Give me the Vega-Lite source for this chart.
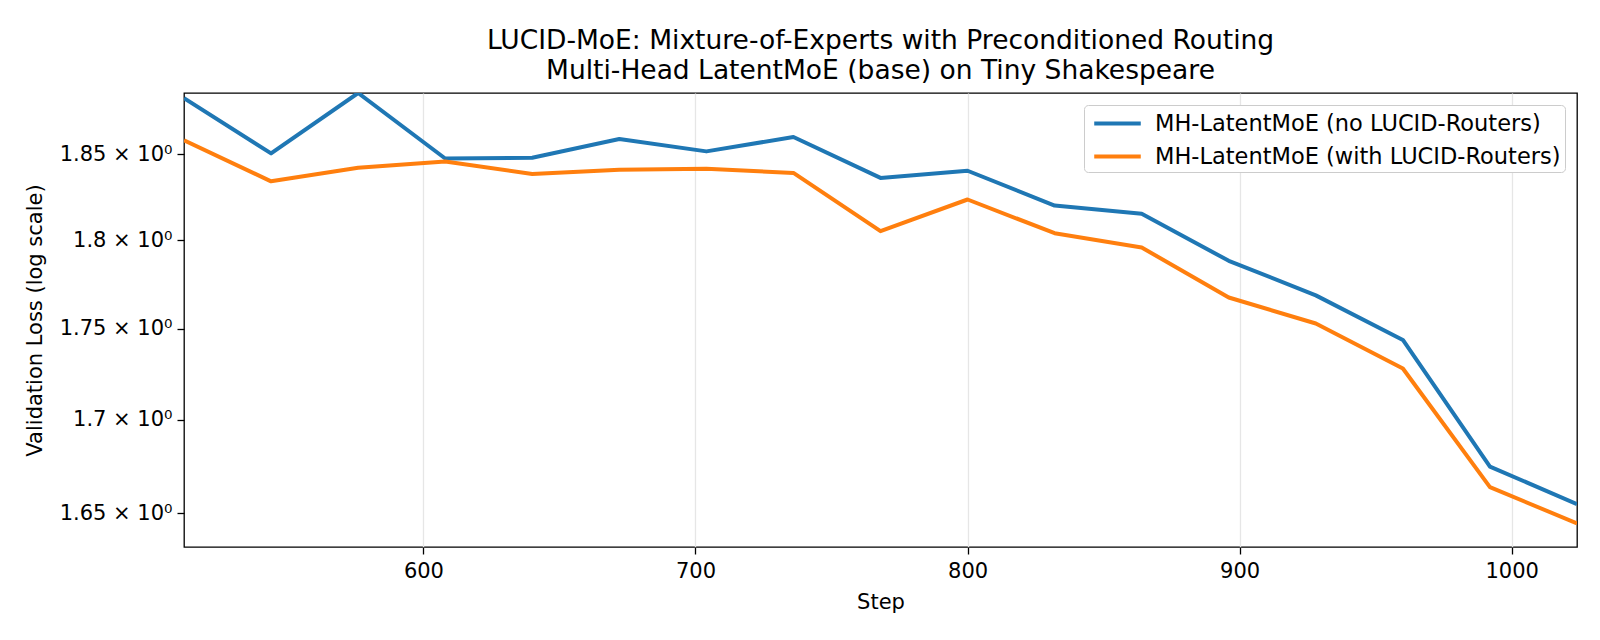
{
  "$schema": "https://vega.github.io/schema/vega-lite/v6.json",
  "autosize": "none",
  "width": 1393,
  "height": 454,
  "padding": {"left": 184, "top": 93, "right": 23, "bottom": 93},
  "background": "white",
  "config": {
    "font": "DejaVu Sans",
    "view": {"stroke": "black", "strokeWidth": 1.3},
    "axis": {"labelFont": "DejaVu Sans", "titleFont": "DejaVu Sans", "labelColor": "black", "titleColor": "black", "tickColor": "black", "domain": false}
  },
  "title": {
    "text": ["LUCID-MoE: Mixture-of-Experts with Preconditioned Routing", "Multi-Head LatentMoE (base) on Tiny Shakespeare"],
    "fontSize": 26.5,
    "fontWeight": "normal",
    "font": "DejaVu Sans",
    "color": "black",
    "anchor": "middle",
    "frame": "group",
    "offset": 9,
    "lineHeight": 30
  },
  "data": {
    "values": [
      {"step": 512, "loss": 1.8835, "series": "MH-LatentMoE (no LUCID-Routers)"},
      {"step": 544, "loss": 1.8506, "series": "MH-LatentMoE (no LUCID-Routers)"},
      {"step": 576, "loss": 1.8866, "series": "MH-LatentMoE (no LUCID-Routers)"},
      {"step": 608, "loss": 1.8476, "series": "MH-LatentMoE (no LUCID-Routers)"},
      {"step": 640, "loss": 1.848, "series": "MH-LatentMoE (no LUCID-Routers)"},
      {"step": 672, "loss": 1.8591, "series": "MH-LatentMoE (no LUCID-Routers)"},
      {"step": 704, "loss": 1.8518, "series": "MH-LatentMoE (no LUCID-Routers)"},
      {"step": 736, "loss": 1.8603, "series": "MH-LatentMoE (no LUCID-Routers)"},
      {"step": 768, "loss": 1.8362, "series": "MH-LatentMoE (no LUCID-Routers)"},
      {"step": 800, "loss": 1.8404, "series": "MH-LatentMoE (no LUCID-Routers)"},
      {"step": 832, "loss": 1.8201, "series": "MH-LatentMoE (no LUCID-Routers)"},
      {"step": 864, "loss": 1.8153, "series": "MH-LatentMoE (no LUCID-Routers)"},
      {"step": 896, "loss": 1.7883, "series": "MH-LatentMoE (no LUCID-Routers)"},
      {"step": 928, "loss": 1.7687, "series": "MH-LatentMoE (no LUCID-Routers)"},
      {"step": 960, "loss": 1.7437, "series": "MH-LatentMoE (no LUCID-Routers)"},
      {"step": 992, "loss": 1.6747, "series": "MH-LatentMoE (no LUCID-Routers)"},
      {"step": 1024, "loss": 1.6548, "series": "MH-LatentMoE (no LUCID-Routers)"},
      {"step": 512, "loss": 1.8584, "series": "MH-LatentMoE (with LUCID-Routers)"},
      {"step": 544, "loss": 1.8342, "series": "MH-LatentMoE (with LUCID-Routers)"},
      {"step": 576, "loss": 1.8421, "series": "MH-LatentMoE (with LUCID-Routers)"},
      {"step": 608, "loss": 1.8458, "series": "MH-LatentMoE (with LUCID-Routers)"},
      {"step": 640, "loss": 1.8385, "series": "MH-LatentMoE (with LUCID-Routers)"},
      {"step": 672, "loss": 1.841, "series": "MH-LatentMoE (with LUCID-Routers)"},
      {"step": 704, "loss": 1.8416, "series": "MH-LatentMoE (with LUCID-Routers)"},
      {"step": 736, "loss": 1.8391, "series": "MH-LatentMoE (with LUCID-Routers)"},
      {"step": 768, "loss": 1.8053, "series": "MH-LatentMoE (with LUCID-Routers)"},
      {"step": 800, "loss": 1.8236, "series": "MH-LatentMoE (with LUCID-Routers)"},
      {"step": 832, "loss": 1.8041, "series": "MH-LatentMoE (with LUCID-Routers)"},
      {"step": 864, "loss": 1.7959, "series": "MH-LatentMoE (with LUCID-Routers)"},
      {"step": 896, "loss": 1.7675, "series": "MH-LatentMoE (with LUCID-Routers)"},
      {"step": 928, "loss": 1.7529, "series": "MH-LatentMoE (with LUCID-Routers)"},
      {"step": 960, "loss": 1.7279, "series": "MH-LatentMoE (with LUCID-Routers)"},
      {"step": 992, "loss": 1.6638, "series": "MH-LatentMoE (with LUCID-Routers)"},
      {"step": 1024, "loss": 1.6446, "series": "MH-LatentMoE (with LUCID-Routers)"}
    ]
  },
  "mark": {"type": "line", "strokeWidth": 4, "clip": true, "strokeJoin": "round"},
  "encoding": {
    "x": {
      "field": "step",
      "type": "quantitative",
      "scale": {"domain": [512, 1024], "nice": false, "zero": false},
      "axis": {
        "title": "Step",
        "titleFontSize": 21,
        "titleFontWeight": "normal",
        "titlePadding": 10,
        "labelFontSize": 21,
        "labelPadding": 6,
        "values": [600, 700, 800, 900, 1000],
        "format": "d",
        "tickSize": 7,
        "tickWidth": 1.3,
        "grid": true,
        "gridColor": "#e6e6e6",
        "gridWidth": 1.3
      }
    },
    "y": {
      "field": "loss",
      "type": "quantitative",
      "scale": {"type": "log", "domain": [1.6323, 1.8866], "nice": false, "zero": false},
      "axis": {
        "title": "Validation Loss (log scale)",
        "titleFontSize": 21,
        "titleFontWeight": "normal",
        "titlePadding": 14,
        "labelFontSize": 21,
        "labelPadding": 5,
        "values": [1.65, 1.7, 1.75, 1.8, 1.85],
        "labelExpr": "datum.value + ' × 10⁰'",
        "tickSize": 7,
        "tickWidth": 1.3,
        "grid": false
      }
    },
    "color": {
      "field": "series",
      "type": "nominal",
      "scale": {"domain": ["MH-LatentMoE (no LUCID-Routers)", "MH-LatentMoE (with LUCID-Routers)"], "range": ["#1f77b4", "#ff7f0e"]},
      "legend": {
        "title": null,
        "orient": "top-right",
        "offset": 12,
        "padding": 4,
        "fillColor": "white",
        "strokeColor": "#cccccc",
        "cornerRadius": 4,
        "labelFontSize": 22.5,
        "labelFont": "DejaVu Sans",
        "labelColor": "black",
        "labelLimit": 600,
        "labelExpr": "datum.label + ' '",
        "symbolType": "M-1.9,0H1.9",
        "symbolStrokeWidth": 4,
        "symbolSize": 600,
        "symbolOffset": 15,
        "rowPadding": 7,
        "labelOffset": 23
      }
    }
  }
}
